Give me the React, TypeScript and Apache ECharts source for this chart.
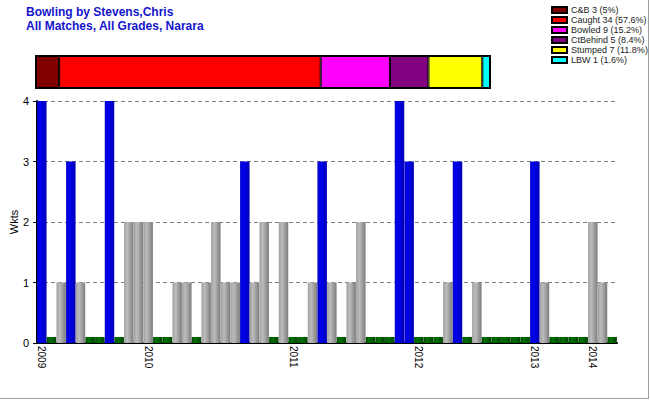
import React, { useEffect, useRef } from "react";
import * as echarts from "echarts";

// Wickets per match (in order)
const wickets = [
  4, 0, 1, 3, 1, 0, 0, 4, 0, 2,
  2, 2, 0, 0, 1, 1, 0, 1, 2, 1,
  1, 3, 1, 2, 0, 2, 0, 0, 1, 3,
  1, 0, 1, 2, 0, 0, 0, 4, 3, 0,
  0, 0, 1, 3, 0, 1, 0, 0, 0, 0,
  0, 3, 1, 0, 0, 0, 0, 2, 1, 0,
];
// first match index of each year, and the year label
const yearStartMatch = [0, 11, 26, 39, 51, 57];
const yearNames = ["2009", "2010", "2011", "2012", "2013", "2014"];

// dismissal breakdown
const dismissalTypes = ["C&B", "Caught", "Bowled", "CtBehind", "Stumped", "LBW"];
const dismissalCounts = [3, 34, 9, 5, 7, 1];
const dismissalPct = ["5%", "57.6%", "15.2%", "8.4%", "11.8%", "1.6%"];
const dismissalColors = ["#800000", "#FF0000", "#FF00FF", "#800080", "#FFFF00", "#00FFFF"];

const yTicks = [0, 1, 2, 3, 4];

const FONT = "'Liberation Sans', Arial, sans-serif";

export default function App() {
  const ref = useRef<HTMLDivElement>(null);

  useEffect(() => {
    if (!ref.current) return;
    const chart = echarts.init(ref.current, null, { renderer: "svg" });

    const categories = wickets.map((_, i) => `M${i + 1}`);
    const yearByIndex: Record<number, string> = {};
    yearStartMatch.forEach((m, k) => (yearByIndex[m] = yearNames[k]));

    const grad = (stops: string[]) =>
      new echarts.graphic.LinearGradient(0, 0, 1, 0, [
        { offset: 0, color: stops[0] },
        { offset: 0.35, color: stops[1] },
        { offset: 1, color: stops[2] },
      ]);
    const blue = grad(["#0000C8", "#0000F0", "#0000B4"]);
    const gray = grad(["#A0A0A0", "#BCBCBC", "#7C7C7C"]);
    const green = grad(["#004C00", "#007000", "#004400"]);

    const barData = wickets.map((w) => ({
      value: w === 0 ? 0.1 : w,
      itemStyle: { color: w === 0 ? green : w >= 3 ? blue : gray },
    }));

    const total = dismissalCounts.reduce((a, b) => a + b, 0);
    const dismissalSeries = dismissalTypes.map((t, i) => ({
      name: `${t} ${dismissalCounts[i]} (${dismissalPct[i]})`,
      type: "bar",
      stack: "d",
      xAxisIndex: 1,
      yAxisIndex: 1,
      barWidth: "100%",
      data: [dismissalCounts[i]],
      itemStyle: { color: dismissalColors[i], borderColor: "#000", borderWidth: 1 },
      silent: true,
    }));

    chart.setOption({
      animation: false,
      backgroundColor: "#fff",
      textStyle: { fontFamily: FONT },
      title: {
        text: "Bowling by Stevens,Chris\nAll Matches, All Grades, Narara",
        left: 26,
        top: 5,
        padding: 0,
        textStyle: {
          fontFamily: FONT,
          fontSize: 12,
          fontWeight: "bold",
          color: "#1515CC",
          lineHeight: 14,
        },
      },
      legend: {
        orient: "vertical",
        left: 551,
        top: 5,
        padding: 0,
        itemGap: 0,
        itemWidth: 15,
        itemHeight: 6,
        icon: "rect",
        selectedMode: false,
        textStyle: { fontFamily: FONT, fontSize: 9, color: "#222", lineHeight: 10, padding: [0, 0, 0, -1] },
        data: dismissalSeries.map((s) => s.name),
      },
      grid: [
        { left: 37, right: 33, top: 101, bottom: 57, containLabel: false, outerBoundsMode: "none" },
        { left: 36, top: 56, width: 454, height: 32, show: true, borderColor: "#000", borderWidth: 2, backgroundColor: "transparent", outerBoundsMode: "none" },
      ],
      xAxis: [
        {
          type: "category",
          gridIndex: 0,
          data: categories,
          boundaryGap: true,
          axisLine: { lineStyle: { color: "#000", width: 2 } },
          axisTick: { alignWithLabel: true, interval: 0, length: 4, lineStyle: { color: "#000", width: 1 } },
          axisLabel: {
            interval: 0,
            rotate: -90,
            fontSize: 10,
            color: "#000",
            margin: 3,
            padding: [0, 0, 3, 0],
            fontFamily: FONT,
            formatter: (_v: string, i: number) => yearByIndex[i] ?? "",
          },
          splitLine: { show: false },
        },
        {
          type: "value",
          gridIndex: 1,
          min: 0,
          max: total,
          show: false,
        },
      ],
      yAxis: [
        {
          type: "value",
          gridIndex: 0,
          min: 0,
          max: yTicks[yTicks.length - 1],
          interval: 1,
          name: "Wkts",
          nameLocation: "middle",
          nameGap: 18,
          nameMoveOverlap: false,
          nameRotate: 90,
          nameTextStyle: { fontFamily: FONT, fontSize: 11, color: "#000" },
          axisLine: { show: true, lineStyle: { color: "#000", width: 2 } },
          axisTick: { show: true, length: 4, lineStyle: { color: "#000" } },
          axisLabel: { fontSize: 11, color: "#000", margin: 8, fontFamily: FONT },
          splitLine: { show: true, lineStyle: { color: "#808080", type: [4, 3], width: 1 } },
        },
        {
          type: "category",
          gridIndex: 1,
          data: ["all"],
          show: false,
        },
      ],
      series: [
        {
          type: "bar",
          xAxisIndex: 0,
          yAxisIndex: 0,
          barCategoryGap: "2%",
          data: barData,
          silent: true,
        },
        ...dismissalSeries,
      ],
      graphic: [
        { type: "line", shape: { x1: 648.5, y1: 0, x2: 648.5, y2: 399 }, style: { stroke: "#A0A0A0", lineWidth: 1 } },
        { type: "line", shape: { x1: 0, y1: 398.5, x2: 649, y2: 398.5 }, style: { stroke: "#A0A0A0", lineWidth: 1 } },
      ],
    });

    return () => chart.dispose();
  }, []);

  return (
    <div
      ref={ref}
      style={{ position: "fixed", left: 0, top: 0, width: 650, height: 400, background: "#fff" }}
    />
  );
}
